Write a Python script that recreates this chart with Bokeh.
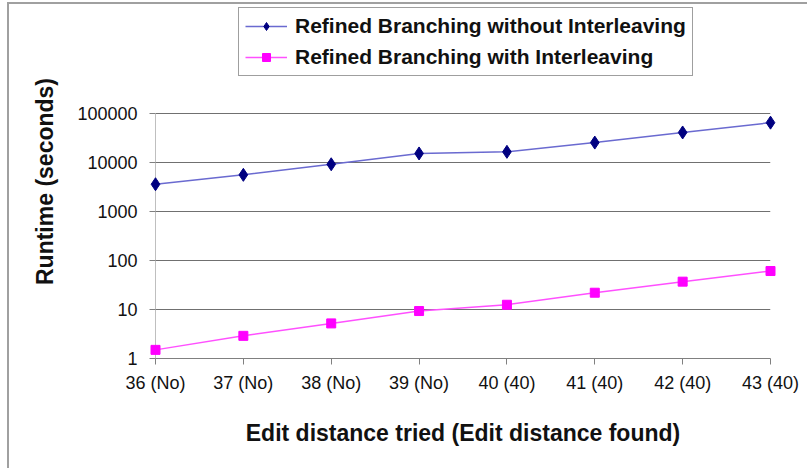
from bokeh.plotting import figure
from bokeh.models import Legend, LegendItem, FixedTicker, PrintfTickFormatter, Range1d, ColumnDataSource
from bokeh.embed import file_html
from bokeh.resources import INLINE

categories = ["36 (No)", "37 (No)", "38 (No)", "39 (No)", "40 (40)", "41 (40)", "42 (40)", "43 (40)"]
without_interleaving = [3600, 5600, 9200, 15300, 16500, 25500, 41000, 65000]
with_interleaving = [1.5, 2.9, 5.2, 9.3, 12.5, 22, 37, 61]
y_ticks = [1, 10, 100, 1000, 10000, 100000]
series_names = ["Refined Branching without Interleaving", "Refined Branching with Interleaving"]

FONT = "Liberation Sans"
x = list(range(len(categories)))
src = ColumnDataSource(dict(x=x, a=without_interleaving, b=with_interleaving))

# layout: the frame extends above the top decade to hold the legend
FRAME_H = 354          # px, frame height
PLOT_H = 245           # px, height spanned by the decades 1 .. 100000
y_top = y_ticks[-1] * 10 ** ((FRAME_H - PLOT_H) / (PLOT_H / (len(y_ticks) - 1)))

p = figure(width=800, height=466, y_axis_type="log",
           x_range=Range1d(0, len(categories) - 1), y_range=Range1d(y_ticks[0], y_top),
           output_backend="svg", toolbar_location=None,
           min_border_left=146, min_border_right=39, min_border_top=0, min_border_bottom=112,
           styles={"margin-left": "7px", "margin-top": "2px",
                   "border-left": "2px solid #a0a0a0", "border-top": "2px solid #a0a0a0"})
p.outline_line_color = None
p.background_fill_color = "white"
p.border_fill_color = "white"

# value axis line, only over the decades
p.line([x[0], x[0]], [y_ticks[0], y_ticks[-1]], line_color="#808080", line_width=1)

l1 = p.line("x", "a", source=src, line_color="#6a6ad0", line_width=1.5, level="overlay")
m1 = p.scatter("x", "a", source=src, marker="diamond", size=13, fill_color="#000080", line_color="#000080", level="overlay")
l2 = p.line("x", "b", source=src, line_color="#ff50ff", line_width=1.5, level="overlay")
m2 = p.scatter("x", "b", source=src, marker="square", size=9, fill_color="#ff00ff", line_color="#ff00ff", level="overlay")

# axes
p.xaxis.ticker = FixedTicker(ticks=x)
p.xaxis.major_label_overrides = {i: c for i, c in zip(x, categories)}
p.yaxis.ticker = FixedTicker(ticks=y_ticks)
p.yaxis.formatter = PrintfTickFormatter(format="%d")
for ax in (p.xaxis, p.yaxis):
    ax.axis_line_color = "#808080"
    ax.major_tick_line_color = "#808080"
    ax.minor_tick_line_color = None
    ax.major_tick_in = 0
    ax.major_tick_out = 6
    ax.major_label_text_font = FONT
    ax.major_label_text_font_size = "18px"
    ax.major_label_text_color = "#111111"
    ax.axis_label_text_font = FONT
    ax.axis_label_text_font_style = "bold"
    ax.axis_label_text_font_size = "23px"
    ax.axis_label_text_color = "#111111"
p.yaxis.axis_line_color = None
p.xaxis.major_label_standoff = 8
p.yaxis.major_label_standoff = 12
p.xaxis.axis_label = "Edit distance tried (Edit distance found)"
p.yaxis.axis_label = "Runtime (seconds)"
p.xaxis.axis_label_standoff = 24
p.yaxis.axis_label_standoff = 16

p.xgrid.grid_line_color = None
p.ygrid.ticker = FixedTicker(ticks=y_ticks)
p.ygrid.grid_line_color = "#707070"
p.ygrid.grid_line_width = 1

legend = Legend(items=[LegendItem(label=series_names[0], renderers=[l1, m1]),
                       LegendItem(label=series_names[1], renderers=[l2, m2])],
                location=(83, 282), orientation="vertical")
legend.label_text_font = FONT
legend.label_text_font_style = "bold"
legend.label_text_font_size = "21px"
legend.label_text_color = "#111111"
legend.glyph_width = 42
legend.label_standoff = 8
legend.spacing = 7
legend.padding = 6
legend.margin = 0
legend.border_line_color = "#404040"
legend.border_line_width = 1
legend.background_fill_alpha = 1
p.add_layout(legend, "center")

open("out.html", "w").write(file_html(p, INLINE))
